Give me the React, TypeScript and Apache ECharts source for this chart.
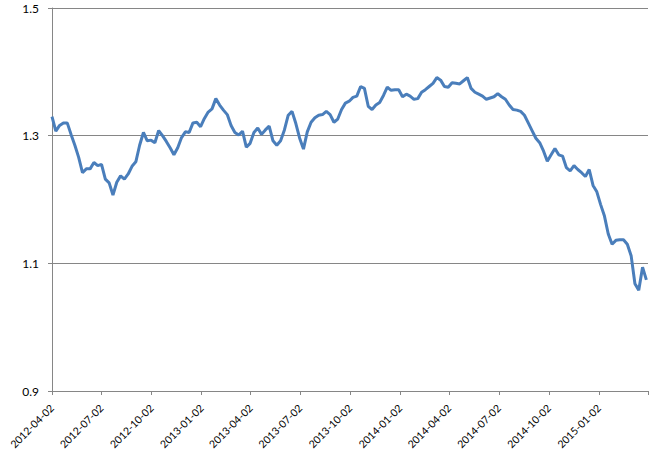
import React, { useEffect, useRef } from "react";
import * as echarts from "echarts";

// Weekly EUR/USD readings starting 2012-04-02 (one value per week)
const START_DATE = "2012-04-02";
const STEP_DAYS = 7;
const RATE: number[] = [
  1.330, 1.307, 1.316, 1.320, 1.320, 1.302, 1.285, 1.266, 1.242, 1.248,
  1.248, 1.258, 1.253, 1.255, 1.232, 1.226, 1.207, 1.227, 1.237, 1.232,
  1.240, 1.252, 1.259, 1.285, 1.305, 1.292, 1.293, 1.289, 1.308, 1.300,
  1.291, 1.281, 1.270, 1.281, 1.297, 1.306, 1.305, 1.320, 1.321, 1.314,
  1.327, 1.337, 1.342, 1.358, 1.348, 1.340, 1.333, 1.316, 1.305, 1.301,
  1.307, 1.282, 1.288, 1.305, 1.312, 1.302, 1.309, 1.315, 1.292, 1.285,
  1.292, 1.309, 1.332, 1.338, 1.319, 1.296, 1.279, 1.306, 1.321, 1.328,
  1.332, 1.333, 1.338, 1.333, 1.321, 1.326, 1.341, 1.351, 1.354, 1.360,
  1.362, 1.377, 1.374, 1.346, 1.341, 1.348, 1.352, 1.363, 1.376, 1.371,
  1.372, 1.372, 1.361, 1.365, 1.362, 1.357, 1.358, 1.368, 1.372, 1.377,
  1.382, 1.391, 1.387, 1.377, 1.376, 1.383, 1.382, 1.381, 1.386, 1.391,
  1.374, 1.368, 1.365, 1.362, 1.357, 1.359, 1.361, 1.366, 1.361, 1.357,
  1.348, 1.341, 1.340, 1.338, 1.332, 1.320, 1.308, 1.296, 1.289, 1.276,
  1.260, 1.270, 1.280, 1.270, 1.268, 1.250, 1.245, 1.253, 1.247, 1.242,
  1.236, 1.247, 1.222, 1.212, 1.192, 1.174, 1.146, 1.130, 1.136, 1.137,
  1.137, 1.130, 1.112, 1.068, 1.058, 1.094, 1.074,
];

const X_TICKS = [
  "2012-04-02", "2012-07-02", "2012-10-02", "2013-01-02", "2013-04-02",
  "2013-07-02", "2013-10-02", "2014-01-02", "2014-04-02", "2014-07-02",
  "2014-10-02", "2015-01-02", "2015-04-02",
];
const X_LABELS = X_TICKS.slice(0, -1);
const Y_TICKS = [0.9, 1.1, 1.3, 1.5];

const DAY = 86400000;
function toTs(s: string) {
  const [y, m, d] = s.split("-").map(Number);
  return Date.UTC(y, m - 1, d);
}
function pad(n: number) {
  return n < 10 ? "0" + n : "" + n;
}
function fmt(ts: number) {
  const d = new Date(ts);
  return d.getUTCFullYear() + "-" + pad(d.getUTCMonth() + 1) + "-" + pad(d.getUTCDate());
}

export default function App() {
  const ref = useRef<HTMLDivElement>(null);
  useEffect(() => {
    if (!ref.current) return;
    const chart = echarts.init(ref.current, undefined, { renderer: "svg" });
    const start = toTs(START_DATE);
    const data = RATE.map((v, i) => [start + i * STEP_DAYS * DAY, v]);
    const axisGray = "#868686";
    chart.setOption({
      animation: false,
      grid: { left: 52, right: 6, top: 8, bottom: 69, containLabel: false },
      xAxis: {
        type: "value",
        min: toTs(X_TICKS[0]),
        max: toTs(X_TICKS[X_TICKS.length - 1]),
        axisLine: { show: true, onZero: false, lineStyle: { color: axisGray, width: 1 } },
        axisTick: {
          show: true,
          inside: false,
          length: 4,
          customValues: X_TICKS.map(toTs),
          lineStyle: { color: axisGray },
        },
        axisLabel: {
          customValues: X_LABELS.map(toTs),
          formatter: (v: number) => fmt(v),
          rotate: 45,
          margin: 15,
          color: "#000",
          fontFamily: "Lato, 'Open Sans', sans-serif",
          fontSize: 10.5,
        },
        splitLine: { show: false },
      },
      yAxis: {
        type: "value",
        min: 0.9,
        max: 1.5,
        axisLine: { show: true, lineStyle: { color: axisGray, width: 1 } },
        axisTick: {
          show: true,
          length: 4,
          customValues: Y_TICKS,
          lineStyle: { color: axisGray },
        },
        axisLabel: {
          customValues: Y_TICKS,
          formatter: (v: number) => v.toFixed(1),
          margin: 13,
          color: "#000",
          fontFamily: "Lato, 'Open Sans', sans-serif",
          fontSize: 12,
        },
        splitLine: { show: true, lineStyle: { color: axisGray, width: 1 } },
      },
      series: [
        {
          type: "line",
          data,
          showSymbol: false,
          symbol: "none",
          lineStyle: { color: "#4a7ebb", width: 3 },
          itemStyle: { color: "#4a7ebb" },
        },
      ],
    });
    return () => chart.dispose();
  }, []);
  return (
    <div
      ref={ref}
      style={{ position: "absolute", left: 0, top: 0, width: 654, height: 460, background: "#fff" }}
    />
  );
}
